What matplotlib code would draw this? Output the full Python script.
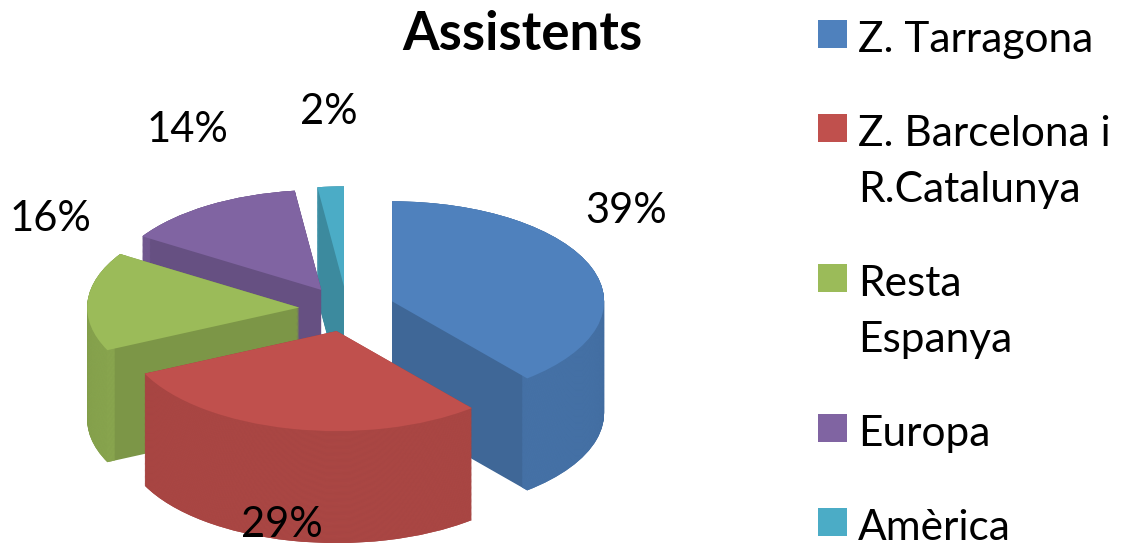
import numpy as np
import matplotlib.pyplot as plt
from matplotlib.patches import Wedge, Rectangle
from matplotlib.colors import to_rgb

# chart data
title = "Assistents"
labels = ["Z. Tarragona", "Z. Barcelona i\nR.Catalunya", "Resta\nEspanya", "Europa", "Amèrica"]
shares = [39, 29, 16, 14, 2]
colors = ["#4F81BD", "#C0504D", "#9BBB59", "#8064A2", "#4BACC6"]

# 3d look: explode, thickness and where the pie sits (pixels)
explode = 0.226
depth = 1.12
W, H = 1124, 551
rx, ry = 212, 100
cx, cy = 347, 309
label_nudge = [0.0, -0.51, 0.47, -0.2, -0.33]

plt.rcParams['font.family'] = ['Lato', 'DejaVu Sans']

fig = plt.figure(figsize=(W / 100, H / 100), dpi=100)
ax = fig.add_axes([0, 0, 1, 1])
ax.set_xlim(-cx / rx, (W - cx) / rx)
ax.set_ylim(-(H - cy) / ry, cy / ry)
ax.axis('off')

frac = np.array(shares) / sum(shares)
ends = np.cumsum(frac)
starts = ends - frac
theta1 = 90 - ends * 360
theta2 = 90 - starts * 360
mid = np.radians((theta1 + theta2) / 2)

# back slices first, front slices last
order = np.argsort(-np.sin(mid))
n_layers = 130
for i in order:
    base = to_rgb(colors[i])
    side = tuple(c * 0.9 for c in base)
    cut = tuple(c * 0.8 for c in base)
    ox, oy = explode * np.cos(mid[i]), explode * np.sin(mid[i])
    for d in np.linspace(depth, 0, n_layers):
        ax.add_patch(Wedge((ox, oy - d), 1, theta1[i], theta2[i], facecolor=cut, lw=0))
        ax.add_patch(Wedge((ox, oy - d), 1, theta1[i], theta2[i], width=0.04,
                           facecolor=side, lw=0))
    ax.add_patch(Wedge((ox, oy), 1, theta1[i], theta2[i], facecolor=base, lw=0))

for i in range(len(shares)):
    ax.text(1.4 * np.cos(mid[i]), 2.0 * np.sin(mid[i]) + 0.3 + label_nudge[i],
            f"{shares[i]}%", ha='center', va='center', fontsize=30)

fig.text(522 / W, (H - 50) / H, title, ha='center', va='baseline',
         fontsize=38, fontweight='bold')

# legend, drawn by hand so the square sits on the first line
baseline = 52
for i, lab in enumerate(labels):
    fig.patches.append(Rectangle((818 / W, (H - baseline + 4) / H), 29 / W, 28 / H,
                                 transform=fig.transFigure, facecolor=colors[i],
                                 edgecolor='none'))
    lines = lab.split("\n")
    for k, line in enumerate(lines):
        fig.text(858 / W, (H - baseline - 56 * k) / H, line, ha='left',
                 va='baseline', fontsize=30.5)
    baseline += 56 * (len(lines) - 1) + 94

fig.savefig("out.png", dpi=100)
